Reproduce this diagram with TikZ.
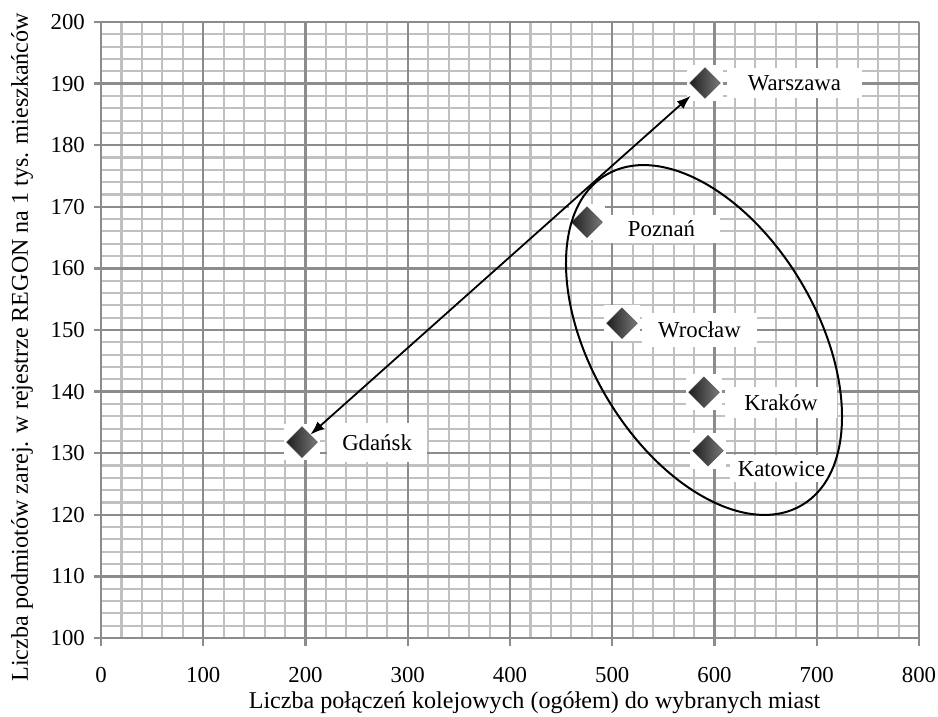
\documentclass[tikz,border=0pt]{standalone}
\usepackage{fontspec}
\setmainfont{Liberation Serif}
\usetikzlibrary{shapes.geometric,arrows.meta}
\definecolor{minorgrid}{HTML}{C0C0C0}
\definecolor{majorgrid}{HTML}{8C8C8C}
\definecolor{dlight}{HTML}{7A7A7A}
\definecolor{ddark}{HTML}{1E1E1E}
\tikzset{
  minorline/.style={draw=minorgrid, line width=2.1pt},
  majorline/.style={draw=majorgrid, line width=2.3pt},
  ticklab/.style={inner sep=0pt},
  titlelab/.style={inner sep=0pt, font=\fontsize{24.1}{29}\selectfont},
  cityl/.style={fill=white, inner sep=0pt, text=black},
  mkbg/.style={fill=white, inner sep=0pt, minimum width=36pt, minimum height=36pt},
  mark point/.style={diamond, aspect=1, inner sep=0pt, minimum width=31pt, minimum height=31pt,
    shading=axis, shading angle=45, left color=ddark, right color=dlight, draw=ddark!80, line width=0.4pt},
  conn/.style={line width=1.8pt, {Latex[length=14pt,width=10pt]}-{Latex[length=14pt,width=10pt]}},
  ring/.style={draw=black, line width=2pt}
}
\begin{document}
\begin{tikzpicture}[x=1pt,y=1pt,font=\fontsize{22.8}{27}\selectfont]
\useasboundingbox (0,0) rectangle (938,716);
\fill[white] (0,0) rectangle (938,716);
\begin{scope}[shift={(101,78)}, x=1.0225pt, y=6.16pt]
  % minor grid
  \foreach \i in {20,40,...,780} \draw[minorline] (\i,0) -- (\i,100);
  \foreach \j in {2,4,...,98} \draw[minorline] (0,\j) -- (800,\j);
  % major grid
  \foreach \i in {0,100,...,800} \draw[majorline] (\i,0) -- (\i,100);
  \foreach \j in {0,10,...,100} \draw[majorline] (0,\j) -- (800,\j);
  % ticks
  \foreach \i in {0,100,...,800} \draw[majorline] (\i,0) -- ++(0,-8pt);
  \foreach \j in {0,10,...,100} \draw[majorline] (0,\j) -- ++(-7pt,0);
  % tick labels
  \foreach \i in {0,100,...,800} \node[ticklab] (xl\i) at ([yshift=-37pt]\i,0) {\i};
  \foreach \j [evaluate=\j as \v using int(\j+100)] in {0,10,...,100}
    \node[ticklab, anchor=east] (yl\j) at ([xshift=-16pt]0,\j) {\v};
  % axis titles
  \node[titlelab] (xtitle) at ([yshift=-65pt]424,0) {Liczba połączeń kolejowych (ogółem) do wybranych miast};
  \node[titlelab, rotate=90] (ytitle) at ([xshift=-79pt]0,47.2) {Liczba podmiotów zarej. w rejestrze REGON na 1 tys. mieszkańców};

  % label boxes
  \node[cityl, minimum width=135pt, minimum height=30pt] (lwa) at (678.2,90.1) {Warszawa};
  \node[cityl, minimum width=117pt, minimum height=28pt] (lpo) at (548.2,66.4) {Poznań};
  \node[cityl, minimum width=115pt, minimum height=34pt] (lwr) at (585.3,50.0) {Wrocław};
  \node[cityl, minimum width=112pt, minimum height=31pt] (lkr) at (665.0,38.2) {Kraków};
  \node[cityl, minimum width=103pt, minimum height=27pt] (lka) at (665.5,27.5) {Katowice};
  \node[cityl, minimum width=100pt, minimum height=39pt] (lgd) at (270.0,31.7) {Gdańsk};

  % marker backgrounds
  \foreach \n/\x/\y in {wa/590.7/90.1, po/475.3/67.5, wr/509.5/51.1, kr/589.7/39.9, ka/593.6/30.4, gd/196.6/31.8}
    \node[mkbg] (bg\n) at (\x,\y) {};
  % markers
  \node[mark point] (wa) at (590.7,90.1) {};
  \node[mark point] (po) at (475.3,67.5) {};
  \node[mark point] (wr) at (509.5,51.1) {};
  \node[mark point] (kr) at (589.7,39.9) {};
  \node[mark point] (ka) at (593.6,30.4) {};
  \node[mark point] (gd) at (196.6,31.8) {};
\end{scope}
% connector
\draw[conn, shorten >=8pt] (gd) -- (wa);
% ellipse around cluster
\draw[ring] (704,376) ellipse[x radius=192, y radius=113, rotate=-59.3];
\end{tikzpicture}
\end{document}
